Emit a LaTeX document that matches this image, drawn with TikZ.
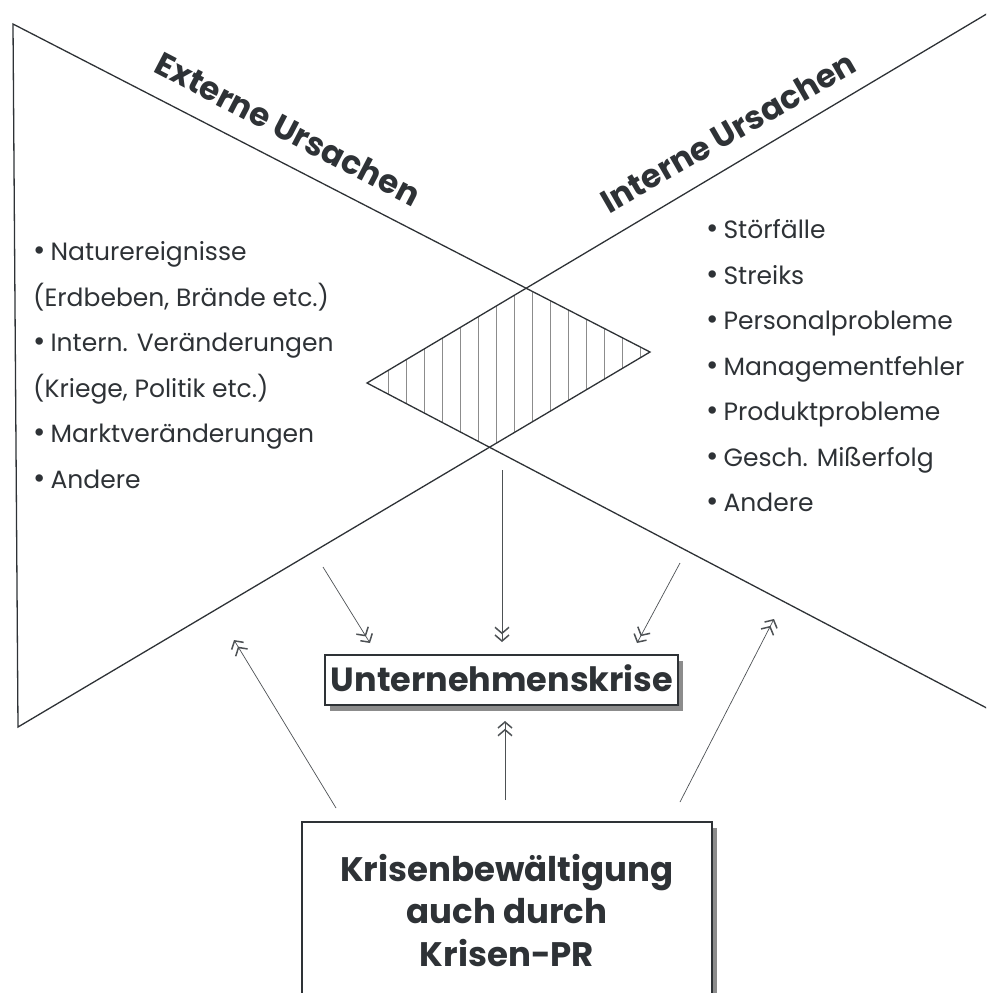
\documentclass[tikz,border=0pt]{standalone}
\usepackage{fontspec}
\setmainfont{Poppins}
\usetikzlibrary{arrows.meta,shadows}
\definecolor{ink}{HTML}{2E3236}
\definecolor{shade}{HTML}{8C8C8C}
\newcommand{\bul}{{\fontsize{30}{30}\selectfont •}\hspace{5pt}}
\begin{document}
\begin{tikzpicture}[x=1pt,y=-1pt,
  edge/.style={draw=ink,line width=1.3pt,line join=miter},
  arr/.style={draw=ink!85,line width=0.7pt,
    -{Straight Barb[length=6pt,width=14pt,line width=1.5pt]Straight Barb[length=6pt,width=14pt,line width=1.5pt]}},
  item/.style={anchor=base west,inner sep=0pt,text=ink,font=\fontsize{25}{25}\selectfont},
  title/.style={text=ink,inner sep=0pt,font=\bfseries\fontsize{32.5}{32.5}\selectfont},
  boxtext/.style={anchor=base,inner sep=0pt,text=ink,font=\bfseries\fontsize{34}{34}\selectfont},
  crisisbox/.style={draw=ink,line width=1.2pt,fill=white,inner sep=0pt,
    drop shadow={shadow xshift=5pt,shadow yshift=-6pt,fill=shade,opacity=1}},
  hatch/.style={draw=shade,line width=0.8pt}
]
\useasboundingbox (0,0) rectangle (986,993);
\clip (0,0) rectangle (986,993);

% triangles
\coordinate (L1) at (13,24);
\coordinate (L2) at (18,727);
\coordinate (A) at (650,352);
\coordinate (B) at (367,383);
\coordinate (R1) at (1000,6);
\coordinate (R2) at (1000,715);

\begin{scope}
  \clip (L1)--(L2)--(A)--cycle;
  \clip (B)--(R1)--(R2)--cycle;
  \foreach \x in {388,406,...,642} \draw[hatch] (\x,270)--(\x,470);
\end{scope}
\draw[edge] (L1)--(A)--(L2)--cycle;
\draw[edge] (R1)--(B)--(R2);

% titles
\node[title,rotate=-27.5] (ext) at (288,129) {Externe Ursachen};
\node[title,rotate=30] (int) at (728,132) {Interne Ursachen};

% left list
\node[item] (e1) at (33,260) {\bul Naturereignisse};
\node[item] (e2) at (33,306) {(Erdbeben, Brände etc.)};
\node[item] (e3) at (33,351) {\bul Intern. Veränderungen};
\node[item] (e4) at (33,397) {(Kriege, Politik etc.)};
\node[item] (e5) at (33,442) {\bul Marktveränderungen};
\node[item] (e6) at (33,488) {\bul Andere};

% right list
\node[item] (i1) at (706,238) {\bul Störfälle};
\node[item] (i2) at (706,284) {\bul Streiks};
\node[item] (i3) at (706,329) {\bul Personalprobleme};
\node[item] (i4) at (706,375) {\bul Managementfehler};
\node[item] (i5) at (706,420) {\bul Produktprobleme};
\node[item] (i6) at (706,466) {\bul Gesch. Mißerfolg};
\node[item] (i7) at (706,511) {\bul Andere};

% boxes
\node[crisisbox,minimum width=353pt,minimum height=50pt] (uk) at (501.5,680) {};
\node[boxtext,font=\bfseries\fontsize{33.5}{33.5}\selectfont] (ukt) at (502,691) {Unternehmenskrise};

\node[crisisbox,minimum width=410pt,minimum height=220pt] (kb) at (507,932) {};
\node[boxtext] (kb1) at (507,881) {Krisenbewältigung};
\node[boxtext] (kb2) at (507,923) {auch durch};
\node[boxtext] (kb3) at (507,966) {Krisen-PR};

% arrows into the crisis box
\coordinate (d1s) at (323,567); \coordinate (d1e) at (370,643);
\coordinate (d2s) at (502,470); \coordinate (d2e) at (502,642);
\coordinate (d3s) at (680,563); \coordinate (d3e) at (637,643);
\draw[arr] (d1s) -- (d1e);
\draw[arr] (d2s) -- (d2e);
\draw[arr] (d3s) -- (d3e);

% arrows from crisis management
\coordinate (u1s) at (336,808); \coordinate (u1e) at (234,640);
\coordinate (u2s) at (505,800); \coordinate (u2e) at (505,721);
\coordinate (u3s) at (680,802); \coordinate (u3e) at (774,619);
\draw[arr] (u1s) -- (u1e);
\draw[arr] (u2s) -- (u2e);
\draw[arr] (u3s) -- (u3e);
\end{tikzpicture}
\end{document}
